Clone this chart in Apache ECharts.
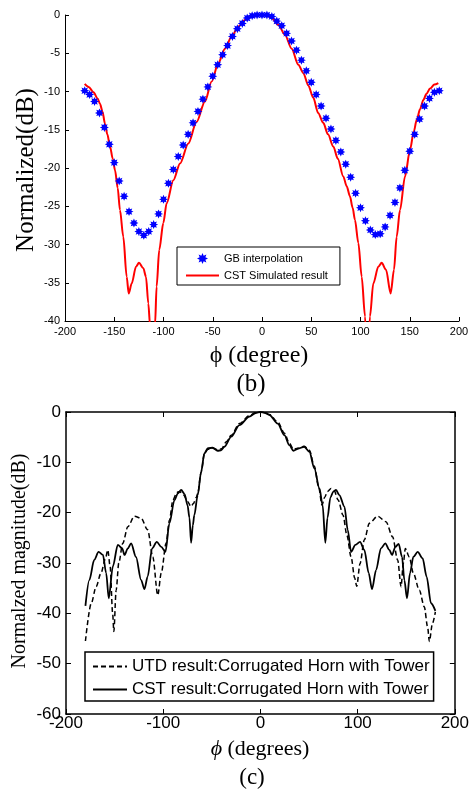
<!DOCTYPE html>
<html><head><meta charset="utf-8">
<script src="https://cdn.jsdelivr.net/npm/echarts@6/dist/echarts.min.js"></script>
<style>html,body{margin:0;padding:0;background:#fff}#c{width:472px;height:792px}</style>
</head><body><div id="c"></div>
<script>
// ---- Panel (b) data ----
const gbPhi = [-180,-175,-170,-165,-160,-155,-150,-145,-140,-135,-130,-125,-120,-115,-110,-105,-100,-95,-90,-85,-80,-75,-70,-65,-60,-55,-50,-45,-40,-35,-30,-25,-20,-15,-10,-5,0,5,10,15,20,25,30,35,40,45,50,55,60,65,70,75,80,85,90,95,100,105,110,115,120,125,130,135,140,145,150,155,160,165,170,175,180];
const gbDb = [-9.9,-10.4,-11.3,-12.8,-14.7,-16.9,-19.3,-21.7,-23.7,-25.7,-27.2,-28.3,-28.8,-28.3,-27.4,-26.0,-24.1,-22.0,-20.2,-18.5,-17.0,-15.6,-14.1,-12.6,-11.0,-9.4,-8.0,-6.5,-5.2,-4.0,-2.8,-1.8,-1.1,-0.4,-0.1,0,0,0,-0.2,-0.8,-1.4,-2.4,-3.4,-4.6,-5.9,-7.3,-8.8,-10.4,-11.9,-13.5,-14.9,-16.4,-17.9,-19.5,-21.2,-23.3,-25.2,-26.9,-28.1,-28.7,-28.6,-27.7,-26.2,-24.5,-22.6,-20.3,-17.8,-15.6,-13.6,-11.9,-10.9,-10.1,-9.9];
const cstPhiB = [-180,-176,-171,-167,-164.5,-162,-159.4,-157,-154.3,-151.5,-149.2,-146.5,-144.2,-140.8,-137.4,-135.3,-132.3,-127.9,-124.9,-120.5,-117.8,-115.4,-113.7,-111,-108.6,-107,-104.3,-100.2,-96.8,-90,-83.2,-74.8,-66.5,-57.9,-51.1,-44.4,-37.6,-30.8,-24,-17.3,-10.5,-5,0,5,9.8,16.6,23.4,30.1,36.9,42,47,52,57,62.2,67,72.4,77,82.5,86,89.3,92,94.4,97.8,101.2,104.6,107,109.6,113,118.1,121.5,125.9,130.6,134,136.7,140.1,145.2,150.3,154,157.1,160.5,163.8,167,170.6,175,179];
const cstDbB = [-9.0,-9.4,-10.1,-10.9,-11.6,-12.6,-14.2,-15.6,-17.2,-18.8,-20.3,-22.6,-25.5,-29.0,-34.2,-36.4,-35.1,-32.9,-32.4,-33.1,-34.2,-37.7,-40.5,-46,-40.5,-35.5,-30.7,-27.2,-24.6,-21.6,-19.4,-16.8,-14.0,-11.3,-8.7,-6.3,-4.4,-2.8,-1.5,-0.65,-0.2,0,0,-0.05,-0.4,-1.3,-2.6,-4.4,-6.5,-7.6,-9.2,-10.8,-12.8,-14.1,-15.6,-17.2,-18.8,-21.1,-22.4,-23.7,-25.2,-26.8,-29.8,-34.2,-39.4,-46,-39.4,-35.1,-32.9,-32.4,-33.3,-36.4,-33.3,-29.0,-25.5,-21.1,-17.6,-15.3,-13.7,-12.3,-11.1,-10.3,-9.6,-9.1,-8.9];

// ---- Panel (c) data ----
const utdPhi = [-180,-174,-169,-164,-159.4,-157,-154.6,-152,-150.8,-148.4,-145.7,-141.6,-136.4,-129.6,-122.7,-116,-110.7,-105.6,-102,-97,-93.6,-90,-86,-83.3,-79,-75,-71.3,-69,-66,-64.5,-61,-57.6,-54,-49,-44,-40,-35,-30,-21.6,-11.3,-5,0,5,9.3,17.8,24.7,29.8,34,38.4,45,50.4,55.5,60,63.4,66,69,72.7,76,80,85,89,93.3,97,99.1,102.5,106.9,112.1,120.6,129.2,136,141.2,144.7,147,149.1,153.2,157.3,163.5,168.6,172,173.8,177,180];
const utdDb = [-45.5,-38,-34.7,-32,-29.1,-27.4,-30.7,-40,-43.6,-35.4,-30,-26.1,-22.8,-20.7,-21.1,-23.4,-28.8,-36.4,-32,-26.1,-21.5,-17.5,-16,-15.8,-16.5,-17.8,-18.8,-18.2,-17,-16.2,-12,-8.3,-7.4,-7.2,-7.5,-7.3,-5.9,-4.6,-2.3,-0.7,-0.1,0,-0.1,-0.5,-2.0,-4.2,-6.2,-7.4,-7.2,-6.8,-7.6,-10.8,-15,-18.5,-17,-15.8,-15.2,-15.7,-17.5,-20.5,-24.5,-28.8,-33,-34.6,-30.1,-25.4,-22.1,-20.7,-21.8,-24.8,-29.4,-34.7,-30.1,-27.1,-28.8,-32,-35.4,-38.7,-42.7,-45.6,-42,-39.7];
const cstPhiC = [-180,-176,-171,-166.5,-162,-158.7,-156,-151.8,-146.7,-142.2,-139.8,-136.4,-133,-128,-122.7,-119.3,-116,-111.4,-106.6,-102,-97.7,-93.6,-88.4,-85,-81.5,-78,-75,-73,-71.3,-69.5,-68,-64.5,-61,-57.6,-54,-49,-44,-40.5,-37,-30,-21.6,-11.3,-5,0,5,9.3,17.8,24.7,29.8,34,38.4,45,50.4,55.5,60.7,64,66.8,69,72,75,77.8,81.2,86.4,89.8,93.3,97.7,102.5,106.9,111.4,114.8,119,124,128.5,132.6,135.4,138.8,142.2,145.7,148.1,150.8,153.9,157.3,161.8,166.9,171,175.5,180];
const cstDbC = [-38.5,-33.4,-29.4,-27.8,-28.4,-32.0,-37.0,-30.7,-26.4,-27.1,-28.4,-27.1,-26.1,-28.8,-33.4,-35.2,-32.7,-27.1,-25.8,-26.8,-27.8,-22.1,-17.5,-16.2,-15.5,-16.3,-18.5,-21,-26,-22.5,-20.5,-16.5,-11.9,-8.2,-7.2,-7.1,-7.7,-7.6,-6.9,-4.9,-2.6,-0.9,-0.2,0,-0.2,-0.6,-2.3,-4.6,-6.6,-7.7,-7.3,-6.9,-7.9,-11.2,-15.2,-18.5,-26,-21,-17,-15.8,-15.5,-16.5,-18.8,-23.4,-27.8,-26.4,-25.8,-27.4,-32,-35.2,-31.4,-27.1,-26.1,-27.4,-28.4,-26.8,-26.2,-28.8,-33.4,-37,-32,-28.8,-27.8,-29.1,-32.7,-38,-39.5];

const zip = (a, b) => a.map((v, i) => [v, b[i]]);
const SANS = 'Liberation Sans, Arial, sans-serif';
const SERIF = 'Liberation Serif, Times New Roman, serif';
const star = 'path://M5,0 L6.07,2.4 L8.54,1.46 L7.6,3.93 L10,5 L7.6,6.07 L8.54,8.54 L6.07,7.6 L5,10 L3.93,7.6 L1.46,8.54 L2.4,6.07 L0,5 L2.4,3.93 L1.46,1.46 L3.93,2.4 Z';
const hideSym = { opacity: 0 };

const chart = echarts.init(document.getElementById('c'));

function axis(extra, w, tickLen) {
  return Object.assign({
    type: 'value',
    axisLine: { show: true, onZero: false, lineStyle: { color: '#000', width: w } },
    axisTick: { inside: true, length: tickLen, lineStyle: { color: '#000', width: 1 } },
    splitLine: { show: false }
  }, extra);
}

chart.setOption({
  animation: false,
  backgroundColor: '#fff',
  grid: [
    { left: 65, top: 15, width: 394, height: 306 },
    { left: 66, top: 412, width: 389, height: 302 }
  ],
  xAxis: [
    axis({ gridIndex: 0, min: -200, max: 200, interval: 50, position: 'bottom',
      axisLabel: { fontSize: 11, fontFamily: SANS, color: '#000', margin: 5 } }, 1, 4),
    axis({ gridIndex: 1, min: -200, max: 200, interval: 100, position: 'bottom',
      axisLabel: { fontSize: 17, fontFamily: SANS, color: '#000', margin: 1 } }, 1.5, 5),
    axis({ gridIndex: 1, min: -200, max: 200, interval: 100, position: 'top',
      axisLabel: { show: false } }, 1.5, 5)
  ],
  yAxis: [
    axis({ gridIndex: 0, min: -40, max: 0, interval: 5, position: 'left',
      axisLabel: { fontSize: 11, fontFamily: SANS, color: '#000', margin: 5 } }, 1, 4),
    axis({ gridIndex: 1, min: -60, max: 0, interval: 10, position: 'left',
      axisLabel: { fontSize: 17, fontFamily: SANS, color: '#000', margin: 5 } }, 1.5, 5),
    axis({ gridIndex: 1, min: -60, max: 0, interval: 10, position: 'right',
      axisLabel: { show: false } }, 1.5, 5)
  ],
  legend: [
    { data: ['GB interpolation', { name: 'CST Simulated result', itemStyle: hideSym }],
      orient: 'vertical', left: 177, top: 247,
      itemWidth: 33, itemHeight: 11, itemGap: 6, itemTextGap: 6, padding: [6, 12, 4, 8],
      borderColor: '#000', borderWidth: 1, backgroundColor: '#fff', selectedMode: false,
      textStyle: { fontSize: 11, lineHeight: 11, fontFamily: SANS, color: '#000' } },
    { data: [{ name: 'UTD result:Corrugated Horn with Tower', itemStyle: hideSym },
             { name: 'CST result:Corrugated Horn with Tower', itemStyle: hideSym }],
      orient: 'vertical', left: 85, top: 652,
      itemWidth: 34, itemHeight: 14, itemGap: 6, itemTextGap: 6, padding: [6, 4, 3, 7],
      borderColor: '#000', borderWidth: 1.5, backgroundColor: '#fff', selectedMode: false,
      textStyle: { fontSize: 17, lineHeight: 14, fontFamily: SANS, color: '#000' } }
  ],
  series: [
    { name: 'CST Simulated result', type: 'line', xAxisIndex: 0, yAxisIndex: 0, data: zip(cstPhiB, cstDbB),
      symbol: 'none', smooth: 0.3, smoothMonotone: 'x', clip: true,
      lineStyle: { color: '#ff0000', width: 2 }, itemStyle: { color: '#ff0000' }, z: 2 },
    { name: 'GB interpolation', type: 'scatter', xAxisIndex: 0, yAxisIndex: 0, data: zip(gbPhi, gbDb),
      symbol: star, symbolSize: 9, symbolKeepAspect: true, itemStyle: { color: '#0000ff', opacity: 1 }, z: 3 },
    { name: 'UTD result:Corrugated Horn with Tower', type: 'line', xAxisIndex: 1, yAxisIndex: 1, data: zip(utdPhi, utdDb),
      symbol: 'none', smooth: 0.3, smoothMonotone: 'x',
      lineStyle: { color: '#000', width: 1.5, type: [5, 3] }, itemStyle: { color: '#000' } },
    { name: 'CST result:Corrugated Horn with Tower', type: 'line', xAxisIndex: 1, yAxisIndex: 1, data: zip(cstPhiC, cstDbC),
      symbol: 'none', smooth: 0.3, smoothMonotone: 'x',
      lineStyle: { color: '#000', width: 1.8 }, itemStyle: { color: '#000' } }
  ],
  graphic: [
    { type: 'text', x: 26, y: 170, rotation: Math.PI / 2,
      style: { text: 'Normalized(dB)', font: '25px ' + SERIF, fill: '#000', align: 'center', verticalAlign: 'middle' } },
    { type: 'text', x: 259, y: 356,
      style: { text: 'ϕ (degree)', font: '24px ' + SERIF, fill: '#000', align: 'center', verticalAlign: 'middle' } },
    { type: 'text', x: 251, y: 384,
      style: { text: '(b)', font: '25px ' + SERIF, fill: '#000', align: 'center', verticalAlign: 'middle' } },
    { type: 'text', x: 20, y: 561, rotation: Math.PI / 2,
      style: { text: 'Normalzed magnitude(dB)', font: '20px ' + SERIF, fill: '#000', align: 'center', verticalAlign: 'middle' } },
    { type: 'text', x: 260, y: 749,
      style: { text: '{i|ϕ}{n| (degrees)}', align: 'center', verticalAlign: 'middle',
        rich: { i: { fontFamily: SERIF, fontSize: 22, fontStyle: 'italic', fill: '#000', color: '#000' },
                n: { fontFamily: SERIF, fontSize: 22, fill: '#000', color: '#000' } } } },
    { type: 'text', x: 252, y: 778,
      style: { text: '(c)', font: '23px ' + SERIF, fill: '#000', align: 'center', verticalAlign: 'middle' } }
  ]
});
</script></body></html>
